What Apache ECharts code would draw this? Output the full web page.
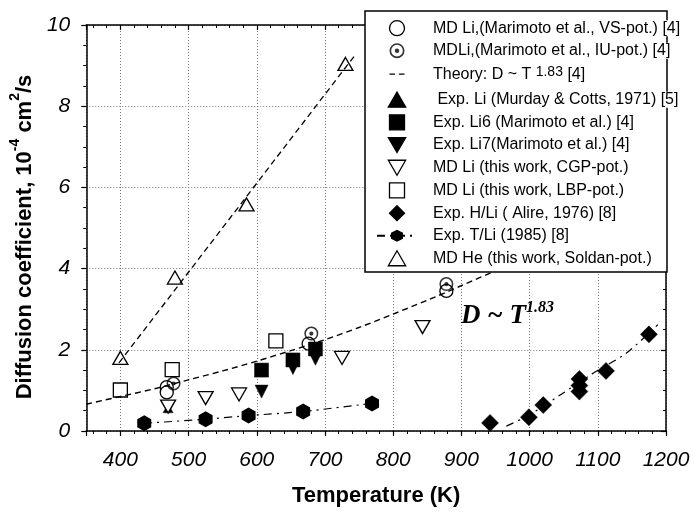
<!DOCTYPE html>
<html><head><meta charset="utf-8">
<script src="https://cdn.jsdelivr.net/npm/echarts@6/dist/echarts.min.js"></script>
<style>html,body{margin:0;padding:0;background:#fff}#c{width:695px;height:512px}</style>
</head><body><div id="c"></div>
<script>
// ---------- data ----------
const xTickLabels = [400, 500, 600, 700, 800, 900, 1000, 1100, 1200];
const yTickLabels = [0, 2, 4, 6, 8, 10];

const mdLiVS   = [[468, 1.08], [468, 0.95], [676, 2.15], [878, 3.45]];
const mdLiIU   = [[478, 1.17], [680, 2.40], [878, 3.62]];
const expLiMurday = [[470, 0.56], [686, 2.00]];
const expLi6   = [[607, 1.50], [653, 1.75], [686, 2.02]];
const expLi7   = [[607, 0.97], [653, 1.55], [686, 1.78]];
const mdLiCGP  = [[470, 0.60], [525, 0.81], [574, 0.90], [725, 1.80], [843, 2.56]];
const mdLiLBP  = [[400, 1.01], [476, 1.51], [628, 2.22]];
const expHLi   = [[942, 0.20], [999, 0.34], [1020, 0.64], [1073, 0.97], [1073, 1.12], [1073, 1.28], [1112, 1.48], [1175, 2.38]];
const expTLi   = [[435, 0.19], [525, 0.29], [588, 0.38], [668, 0.48], [769, 0.68]];
const mdHe     = [[400, 1.80], [480, 3.78], [585, 5.58], [730, 9.04]];

const theoryT  = [350, 400, 450, 500, 550, 600, 650, 700, 750, 800, 850, 900, 950, 1000, 1100, 1200];
const theoryD  = [0.66, 0.85, 1.04, 1.26, 1.48, 1.72, 1.98, 2.25, 2.55, 2.88, 3.22, 3.58, 3.95, 4.34, 5.15, 6.0];
const heFitT   = [398, 746];
const heFitD   = [1.68, 9.30];
const hliFitT  = [966, 1000, 1046, 1093, 1142, 1188];
const hliFitD  = [0.12, 0.40, 0.90, 1.42, 1.92, 2.62];

const names = {
  vs: 'MD Li,(Marimoto et al., VS-pot.) [4]',
  iu: 'MDLi,(Marimoto et al., IU-pot.) [4]',
  th: 'Theory: D ~ T 1.83 [4]',
  mu: ' Exp. Li (Murday & Cotts, 1971) [5]',
  l6: 'Exp. Li6 (Marimoto et al.) [4]',
  l7: 'Exp. Li7(Marimoto et al.) [4]',
  cgp: 'MD Li (this work, CGP-pot.)',
  lbp: 'MD Li (this work, LBP-pot.)',
  hli: 'Exp. H/Li ( Alire, 1976) [8]',
  tli: 'Exp. T/Li (1985) [8]',
  he: 'MD He (this work, Soldan-pot.)'
};

// ---------- symbols ----------
const TRI_UP = 'path://M10,0 L20,17.32 L0,17.32 Z';
const TRI_DN = 'path://M0,0 L20,0 L10,17.32 Z';
const SQUARE = 'path://M0,0 L20,0 L20,20 L0,20 Z';
const CIRCLE = 'path://M10,0 A10,10 0 1,1 10,20 A10,10 0 1,1 10,0 Z';
const DIAMOND = 'path://M10,0 L20,10 L10,20 L0,10 Z';
const HEX = 'path://M10,0 L18.66,5 L18.66,15 L10,20 L1.34,15 L1.34,5 Z';
const RINGDOT = 'path://M10,0 A10,10 0 1,1 10,20 A10,10 0 1,1 10,0 Z M10,2.2 A7.8,7.8 0 1,0 10,17.8 A7.8,7.8 0 1,0 10,2.2 Z M10,7 A3,3 0 1,1 10,13 A3,3 0 1,1 10,7 Z';
const DASH2 = 'path://M0,0 M40,15 M12.5,6.8 L18,6.8 L18,8.2 L12.5,8.2 Z M22,6.8 L27.5,6.8 L27.5,8.2 L22,8.2 Z';

const zip = (a, b) => a.map((v, i) => [v, b[i]]);
const SANS = "'Liberation Sans', Arial, sans-serif";
const SERIF = "'Liberation Serif', 'Times New Roman', serif";

function scatter(name, data, symbol, size, fill) {
  return {
    name, type: 'scatter', data, symbol, symbolSize: size,
    itemStyle: { color: fill, borderColor: '#000', borderWidth: fill === '#fff' ? 1.3 : 0.5, opacity: 1 }
  };
}

const chart = echarts.init(document.getElementById('c'), null, { renderer: 'canvas' });

const axisBase = {
  axisLine: { show: true, onZero: false, lineStyle: { color: '#000', width: 1.5 } },
  splitLine: { show: false }
};

const option = {
  animation: false,
  backgroundColor: '#fff',
  grid: { left: 86, right: 29, top: 25, bottom: 81 },
  xAxis: [
    Object.assign({}, axisBase, {
      type: 'value', min: 350, max: 1200, splitNumber: 8, position: 'bottom',
      axisTick: { show: true, inside: false, length: 5, lineStyle: { color: '#000', width: 1.2 } },
      minorTick: { show: true, splitNumber: 5, length: 3, lineStyle: { color: '#000', width: 1 } },
      axisLabel: {
        formatter: v => xTickLabels.includes(v) ? String(v) : '',
        margin: 19, color: '#000', fontSize: 21, fontStyle: 'italic', fontFamily: SANS
      },
      splitLine: { show: true, lineStyle: { color: '#777', type: [1, 2], width: 1 } },
      name: 'Temperature (K)', nameLocation: 'middle', nameGap: 54,
      nameTextStyle: { color: '#000', fontSize: 22, fontWeight: 'bold', fontFamily: SANS }
    }),
    Object.assign({}, axisBase, {
      type: 'value', min: 350, max: 1200, splitNumber: 8, position: 'top',
      axisTick: { show: true, inside: true, length: 5, lineStyle: { color: '#000', width: 1.2 } },
      minorTick: { show: true, splitNumber: 5, length: 3, lineStyle: { color: '#000', width: 1 } },
      axisLabel: { show: false }
    })
  ],
  yAxis: [
    Object.assign({}, axisBase, {
      type: 'value', min: 0, max: 10, interval: 2, position: 'left',
      axisTick: { show: true, inside: false, length: 5, lineStyle: { color: '#000', width: 1.2 } },
      minorTick: { show: true, splitNumber: 4, length: 3, lineStyle: { color: '#000', width: 1 } },
      axisLabel: {
        formatter: v => yTickLabels.includes(v) ? String(v) : '',
        margin: 16, color: '#000', fontSize: 21, fontStyle: 'italic', fontFamily: SANS
      },
      splitLine: { show: true, lineStyle: { color: '#777', type: [1, 2], width: 1 } },
      name: '{n|Diffusion coefficient, 10}{s|-4}{n| cm}{s|2}{n|/s}',
      nameLocation: 'middle', nameGap: 34,
      nameTextStyle: {
        color: '#000', fontFamily: SANS, fontWeight: 'bold', fontSize: 22,
        padding: [0, 18, 0, 0],
        rich: {
          n: { fontSize: 22, fontWeight: 'bold', fontFamily: SANS, color: '#000', lineHeight: 28, verticalAlign: 'bottom' },
          s: { fontSize: 14, fontWeight: 'bold', fontFamily: SANS, color: '#000', lineHeight: 28, verticalAlign: 'top' }
        }
      }
    }),
    Object.assign({}, axisBase, {
      type: 'value', min: 0, max: 10, interval: 2, position: 'right',
      axisTick: { show: true, inside: true, length: 5, lineStyle: { color: '#000', width: 1.2 } },
      minorTick: { show: true, splitNumber: 4, length: 3, lineStyle: { color: '#000', width: 1 } },
      axisLabel: { show: false }
    })
  ],
  title: {
    text: '{d|D ~ T}{s|1.83}',
    left: 461, top: 300, padding: 0,
    textStyle: {
      rich: {
        d: { fontFamily: SERIF, fontSize: 27, fontWeight: 'bold', fontStyle: 'italic', color: '#000', lineHeight: 30, verticalAlign: 'bottom' },
        s: { fontFamily: SERIF, fontSize: 16, fontWeight: 'bold', fontStyle: 'italic', color: '#000', lineHeight: 30, verticalAlign: 'top' }
      }
    }
  },
  graphic: {
    elements: [{
      type: 'rect', zlevel: 1, z: 1,
      shape: { x: 365, y: 11, width: 302, height: 261 },
      style: { fill: '#fff', stroke: '#000', lineWidth: 1.5 }
    }]
  },
  legend: {
    orient: 'vertical', left: 376, top: 20, padding: 0, zlevel: 1, z: 5,
    itemWidth: 40, itemHeight: 15, itemGap: 6.4, selectedMode: false,
    itemStyle: { borderWidth: 1.3 },
    data: [
      { name: names.vs, icon: CIRCLE },
      { name: names.iu, icon: RINGDOT, itemStyle: { borderWidth: 0 } },
      { name: names.th, icon: DASH2, itemStyle: { color: '#000', borderWidth: 0 } },
      { name: names.mu, icon: TRI_UP },
      { name: names.l6, icon: SQUARE },
      { name: names.l7, icon: TRI_DN },
      { name: names.cgp, icon: TRI_DN },
      { name: names.lbp, icon: SQUARE },
      { name: names.hli, icon: DIAMOND },
      { name: names.tli },
      { name: names.he, icon: TRI_UP }
    ],
    formatter: function (n) {
      if (n === names.th) return '{a|Theory: D ~ T }{s|1.83}{b| [4]}';
      return '{a|' + n + '}';
    },
    textStyle: {
      color: '#000', fontFamily: SANS, fontSize: 16,
      rich: {
        a: { fontFamily: SANS, fontSize: 16, color: '#000', lineHeight: 18, padding: [0, 0, 0, 11], backgroundColor: '#fff' },
        b: { fontFamily: SANS, fontSize: 16, color: '#000', lineHeight: 18, backgroundColor: '#fff' },
        s: { fontFamily: SANS, fontSize: 14, color: '#000', lineHeight: 18, verticalAlign: 'top', padding: [0, 0, 6, 0] }
      }
    }
  },
  series: [
    {
      name: names.th, type: 'line', data: zip(theoryT, theoryD), smooth: 0.3, symbol: 'none',
      itemStyle: { color: '#000' }, lineStyle: { color: '#000', width: 1.4, type: [6, 4] }
    },
    {
      name: 'He fit', type: 'line', data: zip(heFitT, heFitD), symbol: 'none',
      lineStyle: { color: '#000', width: 1.3, type: [6, 4] }
    },
    {
      name: 'H/Li fit', type: 'line', data: zip(hliFitT, hliFitD), smooth: 0.3, symbol: 'none',
      lineStyle: { color: '#000', width: 1.2, type: [8, 5, 2, 5] }
    },
    {
      name: names.tli, type: 'line', data: expTLi, smooth: 0.2,
      symbol: HEX, symbolSize: [14, 16], showSymbol: true,
      itemStyle: { color: '#000' }, lineStyle: { color: '#000', width: 1.2, type: [8, 5, 2, 5] }
    },
    scatter(names.vs, mdLiVS, CIRCLE, [13, 13], '#fff'),
    Object.assign(scatter(names.iu, mdLiIU, RINGDOT, [14, 14], '#000'), { itemStyle: { color: '#000', borderWidth: 0 } }),
    scatter(names.mu, expLiMurday, TRI_UP, [10, 9], '#000'),
    scatter(names.l6, expLi6, SQUARE, [14, 14], '#000'),
    scatter(names.l7, expLi7, TRI_DN, [13, 13], '#000'),
    scatter(names.cgp, mdLiCGP, TRI_DN, [15, 13], '#fff'),
    scatter(names.lbp, mdLiLBP, SQUARE, [14, 14], '#fff'),
    scatter(names.hli, expHLi, DIAMOND, [17, 17], '#000'),
    scatter(names.he, mdHe, TRI_UP, [15, 13], '#fff')
  ]
};
chart.setOption(option);
</script>
</body></html>
